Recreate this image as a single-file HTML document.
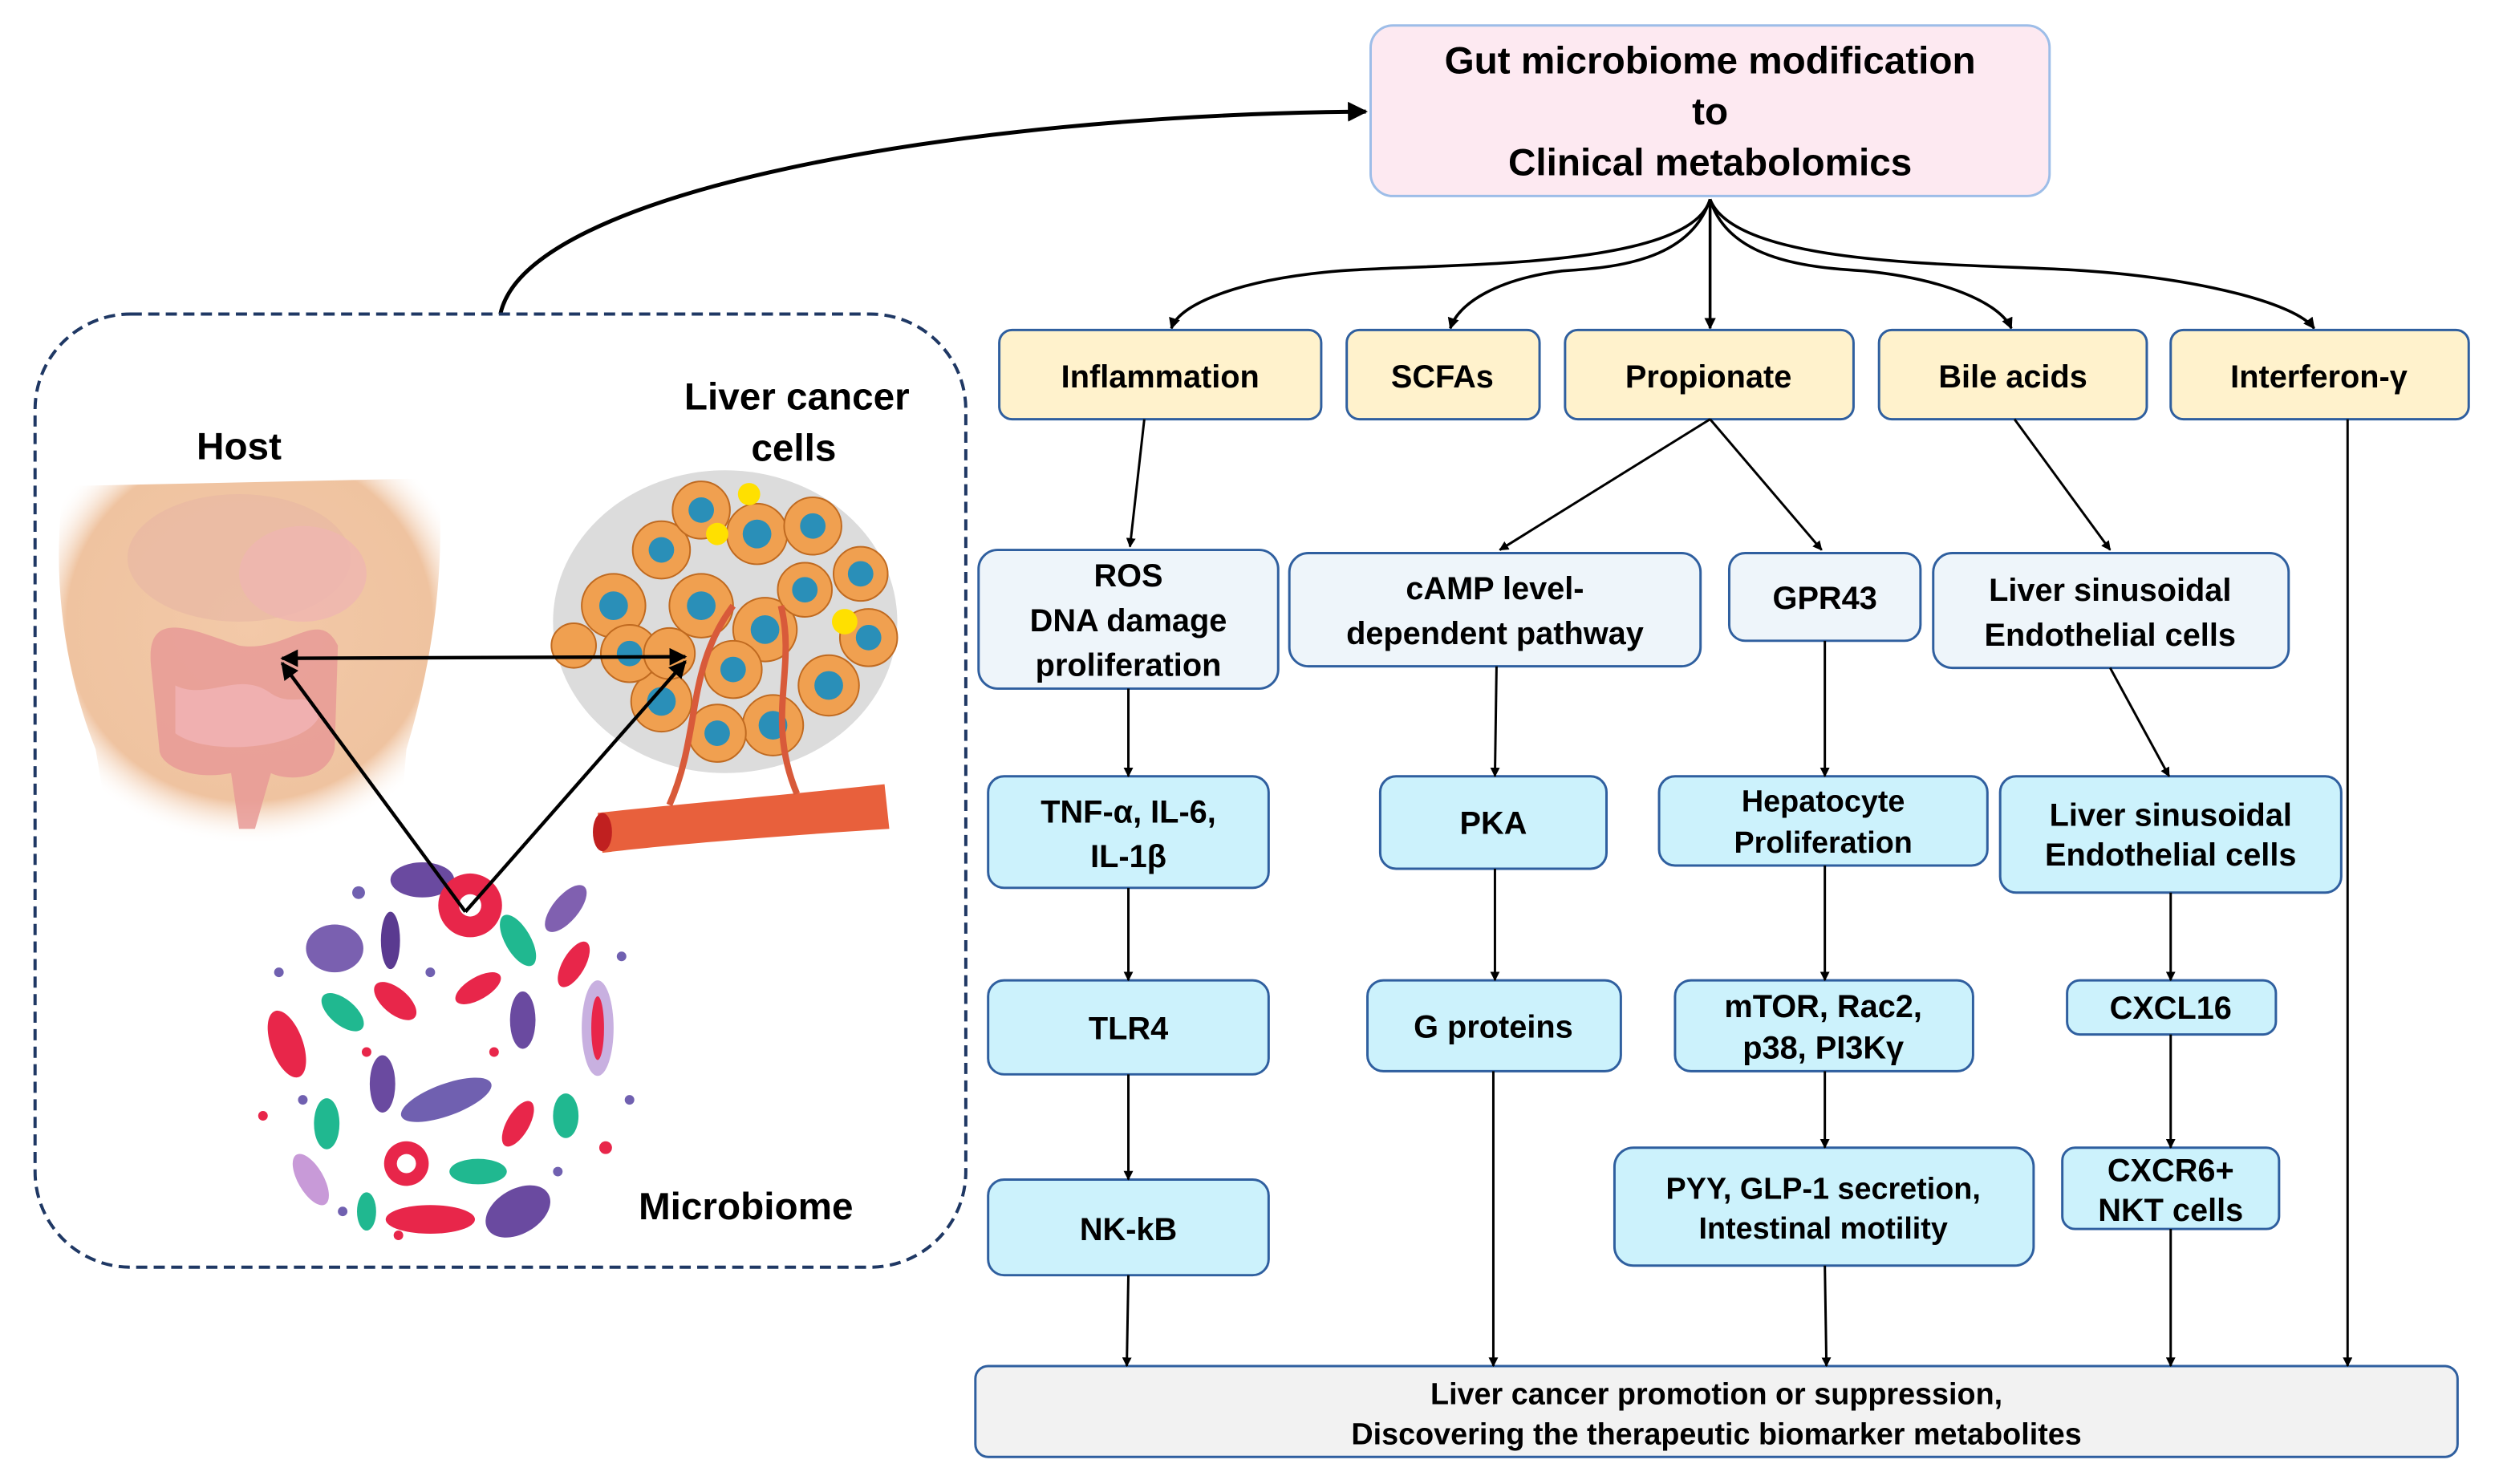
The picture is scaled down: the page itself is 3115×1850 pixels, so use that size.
<!DOCTYPE html>
<html><head><meta charset="utf-8"><style>
html,body{margin:0;padding:0;background:#fff}
svg{display:block}
text{font-family:"Liberation Sans",Arial,sans-serif;font-weight:bold;fill:#000;text-anchor:middle}
</style></head><body>
<svg width="3115" height="1850" viewBox="0 0 1568 931" preserveAspectRatio="none" xmlns="http://www.w3.org/2000/svg">
<defs>
<marker id="a" viewBox="0 0 10 10" refX="9" refY="5" markerWidth="5" markerHeight="5" orient="auto-start-reverse"><path d="M0,0 L10,5 L0,10 z" fill="#000"/></marker>
<marker id="b" viewBox="0 0 10 10" refX="9" refY="5" markerWidth="4" markerHeight="4" orient="auto-start-reverse"><path d="M0,0 L10,5 L0,10 z" fill="#000"/></marker>
<radialGradient id="sk" cx="50%" cy="40%" r="60%"><stop offset="0" stop-color="#f3c9a8"/><stop offset="0.8" stop-color="#efc3a0"/><stop offset="1" stop-color="#fff" stop-opacity="0"/></radialGradient>
</defs>

<rect x="860" y="16" width="426" height="107" rx="14" fill="#fde9f1" stroke="#9dbde8" stroke-width="1.5"/>
<text x="1073" y="46" font-size="24">Gut microbiome modification</text>
<text x="1073" y="78" font-size="24">to</text>
<text x="1073" y="110" font-size="24">Clinical metabolomics</text>

<path d="M314,197 C330,120 600,72 857,70" fill="none" stroke="#000" stroke-width="2.5" marker-end="url(#a)"/>

<g fill="none" stroke="#000" stroke-width="1.8" marker-end="url(#b)">
<path d="M1073,125 C1060,170 900,165 840,170 C780,175 740,190 735,206"/>
<path d="M1073,125 C1060,165 1010,168 980,170 C940,175 915,190 910,206"/>
<path d="M1073,125 L1073,206"/>
<path d="M1073,125 C1085,165 1140,168 1170,170 C1220,175 1255,190 1262,206"/>
<path d="M1073,125 C1090,170 1250,165 1310,170 C1380,175 1440,190 1452,206"/>
</g>

<g fill="#fff2cc" stroke="#2f5f9f" stroke-width="1.5">
<rect x="627" y="207" width="202" height="56" rx="8"/>
<rect x="845" y="207" width="121" height="56" rx="8"/>
<rect x="982" y="207" width="181" height="56" rx="8"/>
<rect x="1179" y="207" width="168" height="56" rx="8"/>
<rect x="1362" y="207" width="187" height="56" rx="8"/>
</g>
<g font-size="20">
<text x="728" y="243">Inflammation</text>
<text x="905" y="243">SCFAs</text>
<text x="1072" y="243">Propionate</text>
<text x="1263" y="243">Bile acids</text>
<text x="1455" y="243">Interferon-γ</text>
</g>

<g fill="#eef5fa" stroke="#2f5f9f" stroke-width="1.5">
<rect x="614" y="345" width="188" height="87" rx="12"/>
<rect x="809" y="347" width="258" height="71" rx="12"/>
<rect x="1085" y="347" width="120" height="55" rx="10"/>
<rect x="1213" y="347" width="223" height="72" rx="12"/>
</g>
<g font-size="20">
<text x="708" y="368">ROS</text>
<text x="708" y="396">DNA damage</text>
<text x="708" y="424">proliferation</text>
<text x="938" y="376">cAMP level-</text>
<text x="938" y="404">dependent pathway</text>
<text x="1145" y="382">GPR43</text>
<text x="1324" y="377">Liver sinusoidal</text>
<text x="1324" y="405">Endothelial cells</text>
</g>

<g fill="#ccf2fc" stroke="#2f5f9f" stroke-width="1.5">
<rect x="620" y="487" width="176" height="70" rx="10"/>
<rect x="866" y="487" width="142" height="58" rx="10"/>
<rect x="1041" y="487" width="206" height="56" rx="10"/>
<rect x="1255" y="487" width="214" height="73" rx="10"/>
<rect x="620" y="615" width="176" height="59" rx="10"/>
<rect x="858" y="615" width="159" height="57" rx="10"/>
<rect x="1051" y="615" width="187" height="57" rx="10"/>
<rect x="1297" y="615" width="131" height="34" rx="8"/>
<rect x="620" y="740" width="176" height="60" rx="10"/>
<rect x="1013" y="720" width="263" height="74" rx="12"/>
<rect x="1294" y="720" width="136" height="51" rx="8"/>
</g>
<g font-size="20">
<text x="708" y="516">TNF-α, IL-6,</text>
<text x="708" y="544">IL-1β</text>
<text x="937" y="523">PKA</text>
<text x="1144" y="509" font-size="19">Hepatocyte</text>
<text x="1144" y="535" font-size="19">Proliferation</text>
<text x="1362" y="518">Liver sinusoidal</text>
<text x="1362" y="543">Endothelial cells</text>
<text x="708" y="652">TLR4</text>
<text x="937" y="651">G proteins</text>
<text x="1144" y="638">mTOR, Rac2,</text>
<text x="1144" y="664">p38, PI3Kγ</text>
<text x="1362" y="639">CXCL16</text>
<text x="708" y="778">NK-kB</text>
<text x="1144" y="752" font-size="19">PYY, GLP-1 secretion,</text>
<text x="1144" y="777" font-size="19">Intestinal  motility</text>
<text x="1362" y="741">CXCR6+</text>
<text x="1362" y="766">NKT cells</text>
</g>

<rect x="612" y="857" width="930" height="57" rx="8" fill="#f2f2f2" stroke="#2f5f9f" stroke-width="1.5"/>
<text x="1077" y="881" font-size="19">Liver cancer promotion or suppression,</text>
<text x="1077" y="906" font-size="19">Discovering the therapeutic biomarker metabolites</text>

<g stroke="#000" stroke-width="1.5" marker-end="url(#b)">
<line x1="718" y1="263" x2="709" y2="343"/>
<line x1="1073" y1="263" x2="941" y2="345"/>
<line x1="1073" y1="263" x2="1143" y2="345"/>
<line x1="1264" y1="263" x2="1324" y2="345"/>
<line x1="1473" y1="263" x2="1473" y2="857"/>
<line x1="708" y1="432" x2="708" y2="487"/>
<line x1="708" y1="557" x2="708" y2="615"/>
<line x1="708" y1="674" x2="708" y2="740"/>
<line x1="708" y1="800" x2="707" y2="857"/>
<line x1="939" y1="418" x2="938" y2="487"/>
<line x1="938" y1="545" x2="938" y2="615"/>
<line x1="937" y1="672" x2="937" y2="857"/>
<line x1="1145" y1="402" x2="1145" y2="487"/>
<line x1="1145" y1="543" x2="1145" y2="615"/>
<line x1="1145" y1="672" x2="1145" y2="720"/>
<line x1="1145" y1="794" x2="1146" y2="857"/>
<line x1="1324" y1="419" x2="1361" y2="487"/>
<line x1="1362" y1="560" x2="1362" y2="615"/>
<line x1="1362" y1="649" x2="1362" y2="720"/>
<line x1="1362" y1="771" x2="1362" y2="857"/>
</g>

<rect x="22" y="197" width="584" height="598" rx="60" fill="none" stroke="#1f3864" stroke-width="2" stroke-dasharray="7,4"/>

<path d="M40,305 L275,300 C280,360 270,420 255,470 L250,530 L70,530 L60,470 C40,420 32,360 40,305 z" fill="url(#sk)"/>
<ellipse cx="150" cy="350" rx="70" ry="40" fill="#e8b8a4" opacity="0.7"/>
<ellipse cx="190" cy="360" rx="40" ry="30" fill="#efb5b0" opacity="0.8"/>
<path d="M95,420 C90,380 120,395 150,405 C180,410 200,380 212,405 L210,470 C205,490 180,490 170,485 L160,520 L150,520 L145,485 C120,490 100,480 100,470 z" fill="#e79a96" opacity="0.85"/>
<path d="M110,430 C130,440 150,420 170,435 C185,445 195,430 200,450 C190,470 130,475 110,460 z" fill="#f0b0b0"/>

<ellipse cx="455" cy="390" rx="108" ry="95" fill="#dcdcdc"/>
<g fill="#f0a050" stroke="#c06a20" stroke-width="1">
<circle cx="385" cy="380" r="20"/><circle cx="415" cy="345" r="18"/><circle cx="440" cy="320" r="18"/>
<circle cx="475" cy="335" r="19"/><circle cx="510" cy="330" r="18"/><circle cx="540" cy="360" r="17"/>
<circle cx="545" cy="400" r="18"/><circle cx="520" cy="430" r="19"/><circle cx="485" cy="455" r="19"/>
<circle cx="450" cy="460" r="18"/><circle cx="415" cy="440" r="19"/><circle cx="395" cy="410" r="18"/>
<circle cx="440" cy="380" r="20"/><circle cx="480" cy="395" r="20"/><circle cx="460" cy="420" r="18"/>
<circle cx="505" cy="370" r="17"/><circle cx="420" cy="410" r="16"/><circle cx="360" cy="405" r="14"/>
</g>
<g fill="#2a8fb8">
<circle cx="385" cy="380" r="9"/><circle cx="415" cy="345" r="8"/><circle cx="440" cy="320" r="8"/>
<circle cx="475" cy="335" r="9"/><circle cx="510" cy="330" r="8"/><circle cx="540" cy="360" r="8"/>
<circle cx="545" cy="400" r="8"/><circle cx="520" cy="430" r="9"/><circle cx="485" cy="455" r="9"/>
<circle cx="450" cy="460" r="8"/><circle cx="415" cy="440" r="9"/><circle cx="395" cy="410" r="8"/>
<circle cx="440" cy="380" r="9"/><circle cx="480" cy="395" r="9"/><circle cx="460" cy="420" r="8"/>
<circle cx="505" cy="370" r="8"/>
</g>
<circle cx="530" cy="390" r="8" fill="#ffe000"/><circle cx="450" cy="335" r="7" fill="#ffe000"/><circle cx="470" cy="310" r="7" fill="#ffe000"/>
<path d="M375,510 C420,505 480,500 555,492 L558,520 C480,525 420,530 378,535 z" fill="#e8603c"/>
<ellipse cx="378" cy="522" rx="6" ry="12" fill="#c02020"/>
<path d="M420,505 C440,460 430,420 460,380 M500,498 C480,450 500,420 490,380" stroke="#d85a3a" stroke-width="4" fill="none"/>

<circle cx="282" cy="660" r="122" fill="#fff"/>
<g>
<ellipse cx="265" cy="552" rx="20" ry="11" fill="#6a4aa0"/>
<circle cx="295" cy="568" r="20" fill="#e8264a"/><circle cx="295" cy="568" r="7" fill="#fff"/>
<ellipse cx="210" cy="595" rx="18" ry="15" fill="#7a60b0"/>
<ellipse cx="245" cy="590" rx="6" ry="18" fill="#5a3a90"/>
<ellipse cx="325" cy="590" rx="8" ry="18" fill="#20b890" transform="rotate(-30 325 590)"/>
<ellipse cx="355" cy="570" rx="8" ry="18" fill="#8060b0" transform="rotate(40 355 570)"/>
<ellipse cx="360" cy="605" rx="7" ry="16" fill="#e8264a" transform="rotate(30 360 605)"/>
<ellipse cx="375" cy="645" rx="10" ry="30" fill="#c8b0e0"/>
<ellipse cx="375" cy="645" rx="4" ry="20" fill="#e8264a"/>
<ellipse cx="180" cy="655" rx="10" ry="22" fill="#e8264a" transform="rotate(-20 180 655)"/>
<ellipse cx="215" cy="635" rx="8" ry="16" fill="#20b890" transform="rotate(-50 215 635)"/>
<ellipse cx="248" cy="628" rx="8" ry="16" fill="#e8264a" transform="rotate(-50 248 628)"/>
<ellipse cx="300" cy="620" rx="7" ry="16" fill="#e8264a" transform="rotate(60 300 620)"/>
<ellipse cx="328" cy="640" rx="8" ry="18" fill="#6a4aa0"/>
<ellipse cx="240" cy="680" rx="8" ry="18" fill="#6a4aa0"/>
<ellipse cx="205" cy="705" rx="8" ry="16" fill="#20b890"/>
<ellipse cx="280" cy="690" rx="30" ry="10" fill="#7060b0" transform="rotate(-20 280 690)"/>
<ellipse cx="325" cy="705" rx="7" ry="16" fill="#e8264a" transform="rotate(30 325 705)"/>
<ellipse cx="355" cy="700" rx="8" ry="14" fill="#20b890"/>
<ellipse cx="195" cy="740" rx="8" ry="18" fill="#c89ad8" transform="rotate(-30 195 740)"/>
<circle cx="255" cy="730" r="14" fill="#e8264a"/><circle cx="255" cy="730" r="6" fill="#fff"/>
<ellipse cx="300" cy="735" rx="18" ry="8" fill="#20b890"/>
<ellipse cx="270" cy="765" rx="28" ry="9" fill="#e8264a"/>
<ellipse cx="325" cy="760" rx="22" ry="14" fill="#6a4aa0" transform="rotate(-30 325 760)"/>
<ellipse cx="230" cy="760" rx="6" ry="12" fill="#20b890"/>
<g fill="#7060b0"><circle cx="175" cy="610" r="3"/><circle cx="190" cy="690" r="3"/><circle cx="225" cy="560" r="4"/><circle cx="390" cy="600" r="3"/><circle cx="395" cy="690" r="3"/><circle cx="350" cy="735" r="3"/><circle cx="215" cy="760" r="3"/><circle cx="270" cy="610" r="3"/></g>
<g fill="#e8264a"><circle cx="165" cy="700" r="3"/><circle cx="380" cy="720" r="4"/><circle cx="230" cy="660" r="3"/><circle cx="310" cy="660" r="3"/><circle cx="250" cy="775" r="3"/></g>
</g>

<g stroke="#000" stroke-width="2.2" fill="none">
<line x1="177" y1="413" x2="430" y2="412" marker-start="url(#a)" marker-end="url(#a)"/>
<line x1="292" y1="572" x2="177" y2="416" marker-end="url(#a)"/>
<line x1="292" y1="572" x2="430" y2="415" marker-end="url(#a)"/>
</g>

<text x="150" y="288" font-size="24">Host</text>
<text x="500" y="257" font-size="24">Liver cancer</text>
<text x="498" y="289" font-size="24">cells</text>
<text x="468" y="765" font-size="24">Microbiome</text>
</svg>
</body></html>
